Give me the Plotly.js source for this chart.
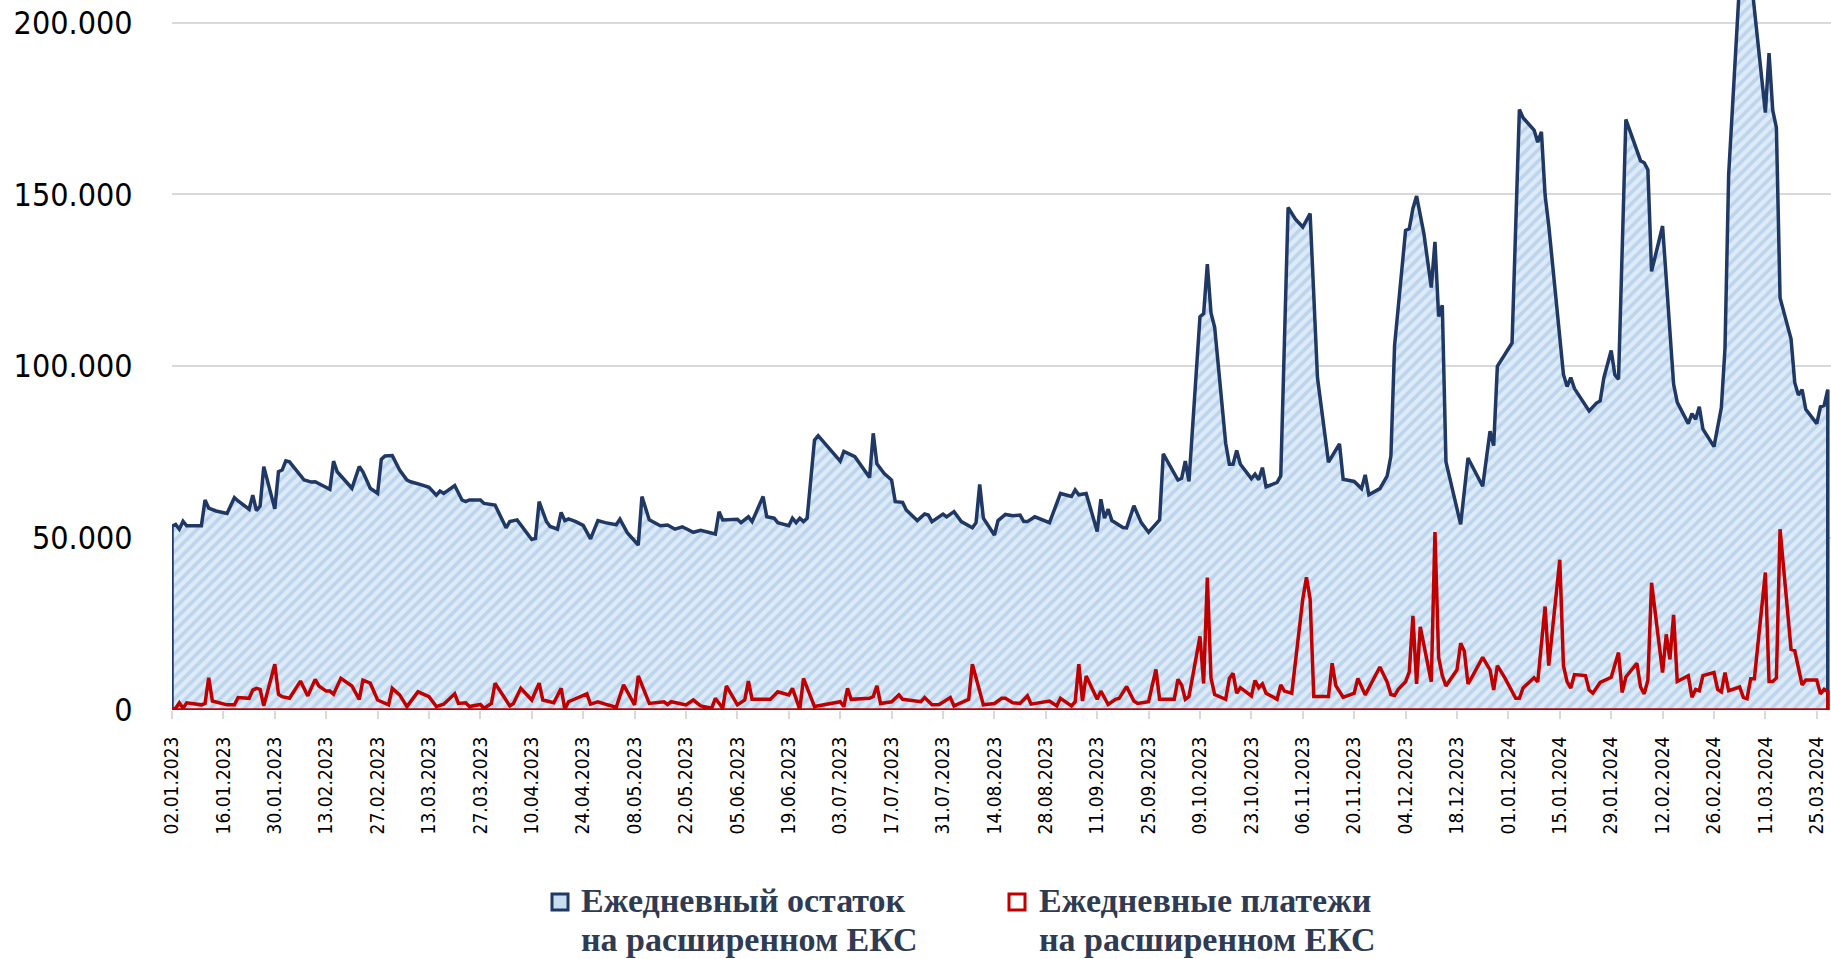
<!DOCTYPE html>
<html>
<head>
<meta charset="utf-8">
<script src="https://cdn.plot.ly/plotly-3.0.1.min.js"></script>
<style>
html,body{margin:0;padding:0;background:#ffffff;}
#chart{width:1831px;height:959px;}
</style>
</head>
<body>
<div id="chart"></div>
<script>
// Ежедневный остаток на расширенном ЕКС
const balanceDates = [
'2023-01-02','2023-01-03','2023-01-04','2023-01-05','2023-01-06','2023-01-10','2023-01-11','2023-01-12','2023-01-14','2023-01-17',
'2023-01-19','2023-01-20','2023-01-23','2023-01-24','2023-01-25','2023-01-26','2023-01-27','2023-01-30','2023-01-31','2023-02-01',
'2023-02-02','2023-02-03','2023-02-07','2023-02-09','2023-02-10','2023-02-14','2023-02-15','2023-02-16','2023-02-20','2023-02-22',
'2023-02-23','2023-02-25','2023-02-27','2023-02-28','2023-03-01','2023-03-03','2023-03-05','2023-03-07','2023-03-08','2023-03-11',
'2023-03-13','2023-03-15','2023-03-16','2023-03-17','2023-03-20','2023-03-22','2023-03-23','2023-03-24','2023-03-27','2023-03-28',
'2023-03-31','2023-04-03','2023-04-04','2023-04-06','2023-04-08','2023-04-10','2023-04-11','2023-04-12','2023-04-14','2023-04-15',
'2023-04-17','2023-04-18','2023-04-19','2023-04-20','2023-04-22','2023-04-24','2023-04-26','2023-04-28','2023-04-30','2023-05-03',
'2023-05-04','2023-05-06','2023-05-09','2023-05-10','2023-05-12','2023-05-15','2023-05-17','2023-05-19','2023-05-21','2023-05-24',
'2023-05-26','2023-05-30','2023-05-31','2023-06-01','2023-06-05','2023-06-06','2023-06-08','2023-06-09','2023-06-12','2023-06-13',
'2023-06-15','2023-06-16','2023-06-19','2023-06-20','2023-06-21','2023-06-22','2023-06-23','2023-06-24','2023-06-26','2023-06-27',
'2023-07-03','2023-07-04','2023-07-07','2023-07-11','2023-07-12','2023-07-13','2023-07-15','2023-07-17','2023-07-18','2023-07-20',
'2023-07-21','2023-07-24','2023-07-26','2023-07-27','2023-07-28','2023-07-31','2023-08-01','2023-08-03','2023-08-05','2023-08-08',
'2023-08-09','2023-08-10','2023-08-11','2023-08-14','2023-08-15','2023-08-17','2023-08-19','2023-08-21','2023-08-22','2023-08-23',
'2023-08-25','2023-08-29','2023-09-01','2023-09-04','2023-09-05','2023-09-06','2023-09-08','2023-09-11','2023-09-12','2023-09-13',
'2023-09-14','2023-09-15','2023-09-18','2023-09-19','2023-09-21','2023-09-23','2023-09-25','2023-09-28','2023-09-29','2023-10-03',
'2023-10-04','2023-10-05','2023-10-06','2023-10-08','2023-10-09','2023-10-10','2023-10-11','2023-10-12','2023-10-13','2023-10-16',
'2023-10-17','2023-10-18','2023-10-19','2023-10-20','2023-10-23','2023-10-24','2023-10-25','2023-10-26','2023-10-27','2023-10-30',
'2023-10-31','2023-11-02','2023-11-04','2023-11-06','2023-11-08','2023-11-10','2023-11-13','2023-11-16','2023-11-17','2023-11-20',
'2023-11-22','2023-11-23','2023-11-24','2023-11-27','2023-11-29','2023-11-30','2023-12-01','2023-12-04','2023-12-05','2023-12-06',
'2023-12-07','2023-12-09','2023-12-11','2023-12-12','2023-12-13','2023-12-14','2023-12-15','2023-12-19','2023-12-21','2023-12-25',
'2023-12-27','2023-12-28','2023-12-29','2024-01-02','2024-01-04','2024-01-05','2024-01-08','2024-01-09','2024-01-10','2024-01-11',
'2024-01-12','2024-01-16','2024-01-17','2024-01-18','2024-01-19','2024-01-23','2024-01-25','2024-01-26','2024-01-27','2024-01-29',
'2024-01-30','2024-01-31','2024-02-02','2024-02-06','2024-02-07','2024-02-08','2024-02-09','2024-02-12','2024-02-15','2024-02-16',
'2024-02-19','2024-02-20','2024-02-21','2024-02-22','2024-02-23','2024-02-26','2024-02-28','2024-02-29','2024-03-01','2024-03-04',
'2024-03-07','2024-03-11','2024-03-12','2024-03-13','2024-03-14','2024-03-15','2024-03-18','2024-03-19','2024-03-20','2024-03-21',
'2024-03-22','2024-03-25','2024-03-26','2024-03-27','2024-03-28'
];
const balanceValues = [
53500,54000,52600,54900,53600,53600,61100,58700,57900,57200,
61800,60800,58400,62500,58000,59300,70800,58500,69300,69800,
72500,72200,66900,66300,66400,64200,72400,69300,64500,70800,
69300,64500,63000,72900,73900,74000,69800,66900,66400,65500,
64800,62500,63700,63000,65300,61100,60600,61100,61100,60100,
59600,53000,54800,55300,52600,49600,49900,60600,54800,53400,
52600,57500,55100,55600,54800,53700,49800,55100,54500,53900,
55500,51600,48000,62100,55300,53600,53800,52600,53300,51700,
52300,51200,57700,55300,55500,54500,56200,54800,62100,56200,
55800,54500,53600,55800,54500,55800,54800,55800,78500,79800,
72400,75200,73700,67600,80500,71600,68800,66900,60600,60400,
58200,55100,57000,56700,54800,57000,56200,57700,54800,53000,
54500,65600,55800,50900,55100,56900,56500,56700,54800,54800,
56200,54500,63000,62100,64000,62600,63000,51900,61300,55800,
58400,55100,53100,53000,59400,54500,51700,55300,74500,66900,
67400,72400,66500,99000,114400,115300,129700,115500,111300,77600,
71500,71500,75500,71500,67300,68600,67000,70500,64900,66200,
68100,146200,142800,140500,144400,96700,72100,77400,67100,66500,
64400,68400,62600,64400,68100,73900,106000,139500,140000,145900,
149500,138500,122900,136200,114500,117700,72200,54000,73300,65100,
81100,76900,100000,106800,174700,172300,168700,165200,168200,149800,
140900,97600,94100,96700,93500,87000,89300,89900,96600,104600,
97500,96200,171800,159800,159200,157200,127600,140800,94800,89500,
83300,86200,84600,88200,81700,76600,87900,105200,155800,212000,
214000,173800,191100,174500,169400,119900,107900,95200,91600,93200,
87500,83300,88200,88600,93200
];

// Ежедневные платежи на расширенном ЕКС
const paymentDates = [
'2023-01-02','2023-01-03','2023-01-04','2023-01-05','2023-01-06','2023-01-10','2023-01-11','2023-01-12','2023-01-13','2023-01-17',
'2023-01-19','2023-01-20','2023-01-23','2023-01-24','2023-01-25','2023-01-26','2023-01-27','2023-01-30','2023-01-31','2023-02-01',
'2023-02-03','2023-02-06','2023-02-08','2023-02-10','2023-02-11','2023-02-13','2023-02-14','2023-02-15','2023-02-17','2023-02-20',
'2023-02-22','2023-02-23','2023-02-24','2023-02-25','2023-02-27','2023-03-02','2023-03-03','2023-03-05','2023-03-07','2023-03-10',
'2023-03-13','2023-03-15','2023-03-17','2023-03-20','2023-03-21','2023-03-23','2023-03-24','2023-03-27','2023-03-28','2023-03-30',
'2023-03-31','2023-04-04','2023-04-05','2023-04-07','2023-04-10','2023-04-12','2023-04-13','2023-04-16','2023-04-18','2023-04-19',
'2023-04-20','2023-04-23','2023-04-25','2023-04-26','2023-04-28','2023-04-30','2023-05-03','2023-05-05','2023-05-08','2023-05-09',
'2023-05-12','2023-05-16','2023-05-17','2023-05-18','2023-05-22','2023-05-24','2023-05-26','2023-05-29','2023-05-30','2023-06-01',
'2023-06-02','2023-06-05','2023-06-07','2023-06-08','2023-06-09','2023-06-14','2023-06-16','2023-06-19','2023-06-20','2023-06-22',
'2023-06-23','2023-06-26','2023-07-03','2023-07-04','2023-07-05','2023-07-06','2023-07-11','2023-07-12','2023-07-13','2023-07-14',
'2023-07-17','2023-07-19','2023-07-20','2023-07-25','2023-07-26','2023-07-28','2023-07-30','2023-08-02','2023-08-03','2023-08-07',
'2023-08-08','2023-08-11','2023-08-14','2023-08-16','2023-08-17','2023-08-19','2023-08-21','2023-08-23','2023-08-24','2023-08-29',
'2023-08-31','2023-09-01','2023-09-04','2023-09-05','2023-09-06','2023-09-07','2023-09-08','2023-09-11','2023-09-12','2023-09-14',
'2023-09-16','2023-09-17','2023-09-19','2023-09-21','2023-09-22','2023-09-25','2023-09-27','2023-09-28','2023-10-02','2023-10-03',
'2023-10-04','2023-10-05','2023-10-06','2023-10-09','2023-10-10','2023-10-11','2023-10-12','2023-10-13','2023-10-16','2023-10-17',
'2023-10-18','2023-10-19','2023-10-20','2023-10-23','2023-10-24','2023-10-25','2023-10-26','2023-10-27','2023-10-30','2023-10-31',
'2023-11-01','2023-11-03','2023-11-06','2023-11-07','2023-11-08','2023-11-09','2023-11-13','2023-11-14','2023-11-15','2023-11-17',
'2023-11-20','2023-11-21','2023-11-23','2023-11-27','2023-11-29','2023-11-30','2023-12-01','2023-12-02','2023-12-04','2023-12-05',
'2023-12-06','2023-12-07','2023-12-08','2023-12-11','2023-12-12','2023-12-13','2023-12-14','2023-12-15','2023-12-18','2023-12-19',
'2023-12-20','2023-12-21','2023-12-22','2023-12-25','2023-12-27','2023-12-28','2023-12-29','2023-12-31','2024-01-03','2024-01-04',
'2024-01-05','2024-01-08','2024-01-09','2024-01-11','2024-01-12','2024-01-15','2024-01-16','2024-01-17','2024-01-18','2024-01-19',
'2024-01-22','2024-01-23','2024-01-24','2024-01-26','2024-01-29','2024-01-31','2024-02-01','2024-02-02','2024-02-05','2024-02-06',
'2024-02-07','2024-02-08','2024-02-09','2024-02-12','2024-02-13','2024-02-14','2024-02-15','2024-02-16','2024-02-19','2024-02-20',
'2024-02-21','2024-02-22','2024-02-23','2024-02-26','2024-02-27','2024-02-28','2024-02-29','2024-03-01','2024-03-04','2024-03-05',
'2024-03-06','2024-03-07','2024-03-08','2024-03-11','2024-03-12','2024-03-13','2024-03-14','2024-03-15','2024-03-18','2024-03-19',
'2024-03-21','2024-03-22','2024-03-25','2024-03-26','2024-03-27','2024-03-28'
];
const paymentValues = [
200,500,2100,500,2100,1500,1900,9400,2600,1500,
1500,3600,3400,5800,6300,6000,1200,13300,4600,3900,
3400,8400,4100,8900,7000,5500,5500,4600,9200,7000,
3100,8700,8200,7800,2900,1500,6300,4400,1000,5300,
3900,1000,1700,4700,1900,2100,1000,1600,500,1900,
7800,1200,1900,6300,2900,7800,2900,2100,6300,200,
2400,3900,4700,1700,2400,1700,800,7300,1500,9900,
1900,2400,1600,2400,1500,2900,1200,500,3400,500,
7000,1500,2900,8400,3100,3100,5300,4400,6300,200,
9200,1000,2400,1000,6300,3100,3400,3900,7000,1900,
2400,4400,3100,2400,3600,1500,1600,3600,1200,3100,
13300,1500,1900,3400,3400,2100,1900,4100,1700,2600,
1200,3400,1200,2400,13300,2600,9900,3100,5500,1600,
3100,3400,6800,2600,1900,2400,11800,3100,3100,8900,
7300,3100,3900,21400,7700,38500,9300,4500,3100,9200,
10700,4900,6500,4100,8600,6500,7600,4900,3100,7300,
5500,4900,32300,38600,32300,3900,3900,13600,7100,3700,
4900,9200,4400,12500,8100,4500,4200,6000,8200,11100,
27400,7600,24200,8200,51800,15300,10000,7000,11700,19400,
17100,7600,9400,15300,11700,5800,12900,9400,3400,3400,
6400,9400,8200,30100,12900,43700,12900,8200,6400,10300,
10000,5800,4900,8000,9500,16700,5100,9600,13600,6700,
4700,8700,37000,10900,22000,14700,27700,8300,10000,3700,
6000,5600,10000,10900,6000,5300,10900,5600,6700,3700,
3300,9100,9100,40000,8300,8300,9300,52600,17600,17300,
7300,8700,8700,4700,6000,5300
];

// legend texts (two lines per entry)
const legendLines = [
  ['Ежедневный остаток', 'на расширенном ЕКС'],
  ['Ежедневные платежи', 'на расширенном ЕКС']
];
const yTickValues = [0, 50000, 100000, 150000, 200000];

const navy = '#1f3864';
const red = '#c00000';
const legendTextColor = '#2f3b52';

// area outlines close down to the zero line at both ends, as in the original
const bFirst = balanceDates[0], bLast = balanceDates[balanceDates.length - 1];
const pFirst = paymentDates[0], pLast = paymentDates[paymentDates.length - 1];

const traces = [
  {
    type: 'scatter', mode: 'lines',
    name: legendLines[0].join(' '),
    x: [bFirst].concat(balanceDates, [bLast]),
    y: [0].concat(balanceValues, [0]),
    fill: 'tozeroy',
    fillcolor: '#dce9f6',
    fillpattern: {shape: '/', bgcolor: '#deebf7', fgcolor: '#bcd5ee', size: 8, solidity: 0.45},
    line: {color: navy, width: 3.5},
    showlegend: false, hoverinfo: 'skip', cliponaxis: true
  },
  {
    type: 'scatter', mode: 'lines',
    name: legendLines[1].join(' '),
    x: [pFirst].concat(paymentDates, [pLast, pFirst]),
    y: [0].concat(paymentValues, [0, 0]),
    line: {color: red, width: 3.5},
    showlegend: false, hoverinfo: 'skip'
  }
];

// legend drawn below the plot: pixel positions converted to paper coordinates
const M = {l: 172, r: 0, t: 0, b: 249};
const W = 1831, H = 959;
const pw = W - M.l - M.r, ph = H - M.t - M.b;
const px = v => (v - M.l) / pw;
const py = v => (ph + M.t - v) / ph;

const legendFont = {family: 'Liberation Serif, serif', size: 34, color: legendTextColor, weight: 700};
const entries = [
  {sq: 552, tx: 580, fill: '#c9ddf1', line: navy},
  {sq: 1009, tx: 1038, fill: '#ffffff', line: red}
];
const shapes = [];
const annotations = [];
entries.forEach((e, i) => {
  shapes.push({
    type: 'rect', xref: 'paper', yref: 'paper',
    x0: px(e.sq), x1: px(e.sq + 16), y0: py(910), y1: py(894),
    fillcolor: e.fill, line: {color: e.line, width: 3}, layer: 'above'
  });
  annotations.push({
    xref: 'paper', yref: 'paper', x: px(e.tx), y: py(901), xanchor: 'left', yanchor: 'middle',
    text: legendLines[i][0], showarrow: false, font: legendFont, borderpad: 0
  });
  annotations.push({
    xref: 'paper', yref: 'paper', x: px(e.tx), y: py(939), xanchor: 'left', yanchor: 'middle',
    text: legendLines[i][1], showarrow: false, font: legendFont, borderpad: 0
  });
});

const tickFontFamily = 'DejaVu Sans Condensed, DejaVu Sans, sans-serif';

const layout = {
  width: W, height: H,
  margin: {l: M.l, r: M.r, t: M.t, b: M.b, pad: 0},
  paper_bgcolor: '#ffffff', plot_bgcolor: '#ffffff',
  separators: ',.',
  showlegend: false,
  shapes: shapes,
  annotations: annotations,
  xaxis: {
    type: 'date',
    range: ['2023-01-02', '2024-03-28 21:00'],
    tick0: '2023-01-02', dtick: 14 * 86400000,
    tickformat: '%d.%m.%Y', tickangle: -90,
    ticks: 'outside', ticklen: 8, tickwidth: 2, tickcolor: '#d9d9d9',
    ticklabelstandoff: 10,
    showgrid: false, zeroline: false, showline: false,
    tickfont: {family: tickFontFamily, size: 19, color: '#000000'},
    automargin: false,
    fixedrange: true
  },
  yaxis: {
    range: [0, 206545],
    tickvals: yTickValues,
    tickformat: ',d',
    showgrid: true, gridcolor: '#d9d9d9', gridwidth: 2,
    zeroline: false, showline: false,
    ticks: 'outside', ticklen: 32, tickcolor: 'rgba(0,0,0,0)',
    tickfont: {family: tickFontFamily, size: 32, color: '#000000'},
    automargin: false,
    fixedrange: true
  }
};

Plotly.newPlot('chart', traces, layout, {displayModeBar: false, staticPlot: true});
</script>
</body>
</html>
